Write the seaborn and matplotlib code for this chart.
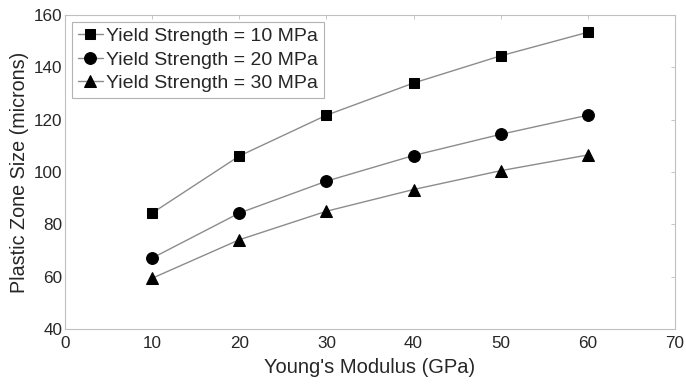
import matplotlib
matplotlib.use("Agg")
import matplotlib.pyplot as plt
import seaborn as sns
import pandas as pd

# Young's modulus (GPa) and plastic zone size (microns) per yield strength
modulus = [10, 20, 30, 40, 50, 60]
zone_10mpa = [84.3, 106.1, 121.7, 134.0, 144.4, 153.4]
zone_20mpa = [67.1, 84.3, 96.5, 106.3, 114.4, 121.7]
zone_30mpa = [59.4, 74.1, 85.0, 93.3, 100.5, 106.5]
labels = ["Yield Strength = 10 MPa", "Yield Strength = 20 MPa", "Yield Strength = 30 MPa"]

sns.set_theme(style="white")
plt.rcParams["font.family"] = ["Liberation Sans", "DejaVu Sans"]

fig = plt.figure(figsize=(6.86, 3.85), dpi=100)
ax = fig.add_axes([0.0948, 0.1455, 0.889, 0.8155])

series = [(zone_10mpa, "s", 7.0), (zone_20mpa, "o", 8.5), (zone_30mpa, "^", 8.5)]
for (vals, mk, ms), lab in zip(series, labels):
    df = pd.DataFrame({"E": modulus, "size": vals})
    sns.lineplot(data=df, x="E", y="size", ax=ax, marker=mk, markersize=ms,
                 color="#8c8c8c", linewidth=1.0, markerfacecolor="black",
                 markeredgecolor="black", label=lab)

ax.set_xlim(0, 70)
ax.set_ylim(40, 160)
ax.set_xticks(range(0, 71, 10))
ax.set_yticks(range(40, 161, 20))
ax.set_xlabel("Young's Modulus (GPa)", fontsize=14.5, color="#262626", labelpad=5)
ax.set_ylabel("Plastic Zone Size (microns)", fontsize=14.2, color="#262626", labelpad=3)
ax.tick_params(axis="x", pad=5)
ax.tick_params(axis="y", pad=2)
ax.tick_params(direction="in", top=True, right=True, length=3, width=0.6,
               color="#bdbdbd", labelsize=12.3, labelcolor="#262626")
for sp in ax.spines.values():
    sp.set_color("#c0c0c0")
    sp.set_linewidth(0.8)

leg = ax.legend(loc="upper left", fontsize=14, frameon=True, fancybox=False,
                borderpad=0.3, labelspacing=0.3, handlelength=1.3,
                handletextpad=0.15, borderaxespad=0.35)
leg.get_frame().set_edgecolor("#a0a0a0")
leg.get_frame().set_linewidth(0.8)

fig.savefig("out.png", dpi=100)
